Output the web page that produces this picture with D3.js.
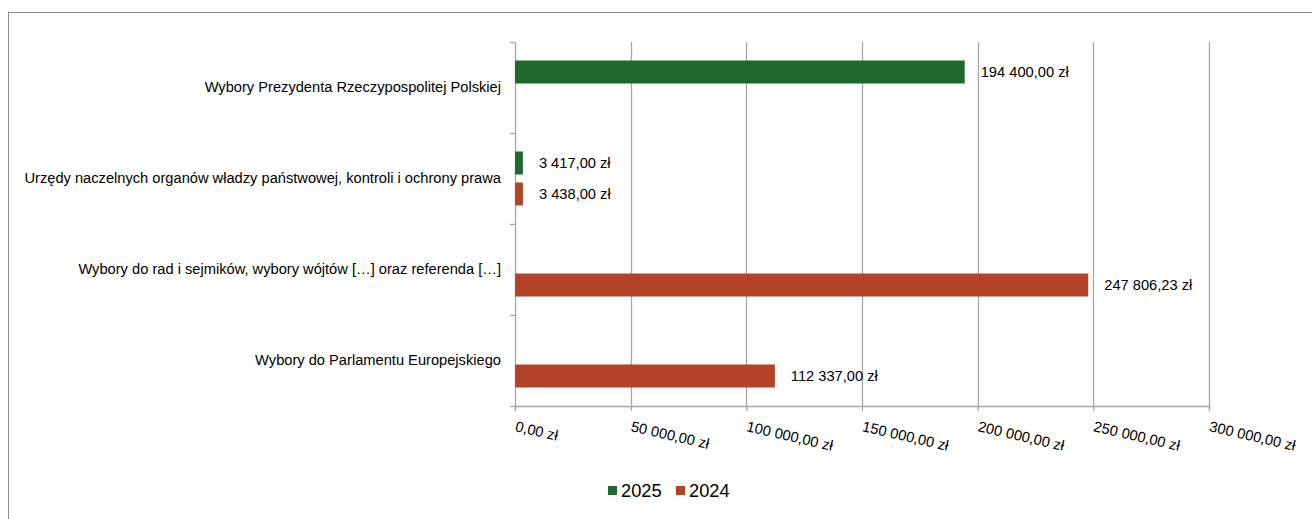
<!DOCTYPE html>
<html><head><meta charset="utf-8">
<script src="https://cdn.jsdelivr.net/npm/d3@7"></script>
<style>
html,body{margin:0;padding:0;background:#fff;}
svg{display:block;font-family:"Liberation Sans",Arial,sans-serif;}
</style></head>
<body>
<svg id="chart" width="1312" height="519"></svg>
<script>
const categories = [
  "Wybory Prezydenta Rzeczypospolitej Polskiej",
  "Urzędy naczelnych organów władzy państwowej, kontroli i ochrony prawa",
  "Wybory do rad i sejmików, wybory wójtów […] oraz referenda […]",
  "Wybory do Parlamentu Europejskiego"
];
const seriesNames = ["2025", "2024"];
const values2025 = [194400.00, 3417.00, null, null];
const values2024 = [null, 3438.00, 247806.23, 112337.00];
const tickValues = [0, 50000, 100000, 150000, 200000, 250000, 300000];
const colors = {"2025": "#1e6a2d", "2024": "#b34428"};

const svg = d3.select("#chart");
const W = 1312, H = 519;
const FS = 14.67;

const pl = d3.formatLocale({decimal: ",", thousands: "\u00a0", grouping: [3], currency: ["", " zł"]});
const fmt = pl.format("$,.2f");

// border
svg.append("rect").attr("x", 8.5).attr("y", 12.5).attr("width", W).attr("height", H)
  .attr("fill", "none").attr("stroke", "#8c8c8c").attr("stroke-width", 1);

const x = d3.scaleLinear().domain([0, 300000]).range([515, 1209]);
const y0 = d3.scaleBand().domain(categories).range([42, 406]).paddingInner(0).paddingOuter(0);
const y1 = d3.scaleBand().domain(seriesNames).range([0, y0.bandwidth()]).paddingInner(8/31).paddingOuter(0.597);

const grid = svg.append("g");
grid.selectAll("line.g").data(tickValues.slice(1)).join("line")
  .attr("x1", d => Math.round(x(d)) + 0.5).attr("x2", d => Math.round(x(d)) + 0.5)
  .attr("y1", 42).attr("y2", 406)
  .attr("stroke", "#a6a6a6").attr("stroke-width", 1.3);

// x axis
const xAxis = svg.append("g").attr("transform", "translate(0,406)")
  .call(d3.axisBottom(x).tickValues(tickValues).tickSize(5).tickFormat(fmt));
xAxis.select(".domain").attr("stroke", "#a6a6a6").attr("stroke-width", 1.3);
xAxis.selectAll(".tick line").attr("stroke", "#a6a6a6").attr("stroke-width", 1.3);
xAxis.selectAll(".tick text")
  .attr("font-size", FS).attr("fill", "#000")
  .attr("text-anchor", "start").attr("dy", null).attr("x", -1).attr("y", 25)
  .attr("transform", "rotate(13,-1,25)");

// y axis
const yTicks = [42].concat(categories.map(c => y0(c) + y0.bandwidth()));
const yAxis = svg.append("g").attr("transform", "translate(515,0)")
  .call(d3.axisLeft(y0).tickSize(0).tickPadding(14));
yAxis.select(".domain").attr("stroke", "#a6a6a6").attr("stroke-width", 1.3);
yAxis.selectAll(".tick text").attr("font-size", FS).attr("fill", "#000");
svg.append("g").selectAll("line").data(yTicks).join("line")
  .attr("x1", 510).attr("x2", 515).attr("y1", d => d + 0.5).attr("y2", d => d + 0.5)
  .attr("stroke", "#a6a6a6").attr("stroke-width", 1.3);

// bars
const rows = [];
categories.forEach((c, i) => {
  if (values2025[i] != null) rows.push({cat: c, s: "2025", v: values2025[i]});
  if (values2024[i] != null) rows.push({cat: c, s: "2024", v: values2024[i]});
});
svg.append("g").selectAll("rect").data(rows).join("rect")
  .attr("x", x(0))
  .attr("y", d => y0(d.cat) + y1(d.s))
  .attr("width", d => x(d.v) - x(0))
  .attr("height", y1.bandwidth())
  .attr("fill", d => colors[d.s]);

svg.append("g").selectAll("text").data(rows).join("text")
  .attr("x", d => x(d.v) + 16)
  .attr("y", d => y0(d.cat) + y1(d.s) + y1.bandwidth() / 2)
  .attr("dy", "0.35em")
  .attr("font-size", FS).attr("fill", "#000")
  .text(d => fmt(d.v));

// legend
const leg = svg.append("g");
const legX = [608, 676];
seriesNames.forEach((s, i) => {
  leg.append("rect").attr("x", legX[i]).attr("y", 486).attr("width", 9).attr("height", 9).attr("fill", colors[s]);
  leg.append("text").attr("x", legX[i] + 13).attr("y", 497).attr("font-size", 18.3).attr("fill", "#000").text(s);
});
</script>
</body></html>
